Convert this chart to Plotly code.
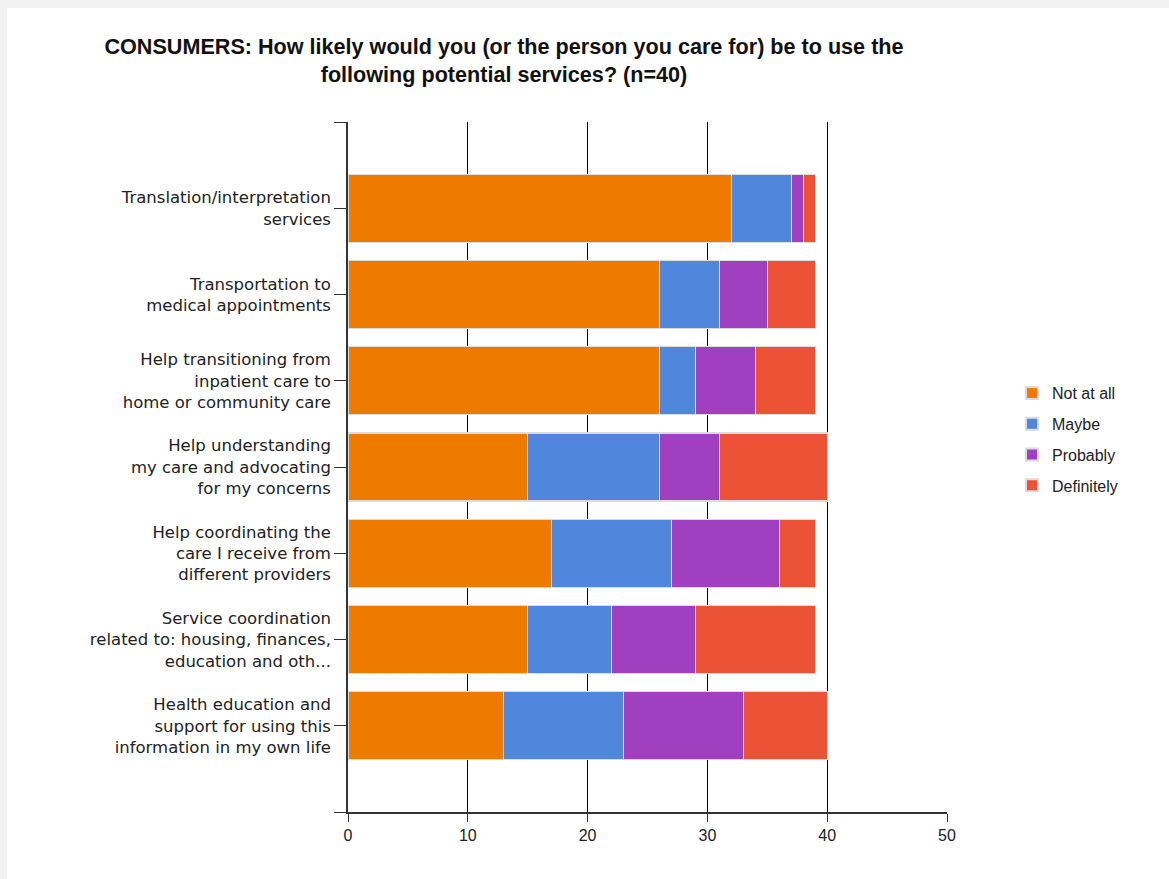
import plotly.graph_objects as go

categories = [
    "Translation/interpretation<br>services",
    "Transportation to<br>medical appointments",
    "Help transitioning from<br>inpatient care to<br>home or community care",
    "Help understanding<br>my care and advocating<br>for my concerns",
    "Help coordinating the<br>care I receive from<br>different providers",
    "Service coordination<br>related to: housing, finances,<br>education and oth...",
    "Health education and<br>support for using this<br>information in my own life",
]
series_names = ["Not at all", "Maybe", "Probably", "Definitely"]
not_at_all = [32, 26, 26, 15, 17, 15, 13]
maybe = [5, 5, 3, 11, 10, 7, 10]
probably = [1, 4, 5, 5, 9, 7, 10]
definitely = [1, 4, 5, 9, 3, 10, 7]
x_ticks = [0, 10, 20, 30, 40, 50]

colors = ["#EE7B00", "#5086DB", "#A040C0", "#EC5235"]
values = [not_at_all, maybe, probably, definitely]
ypos = list(range(len(categories)))

fig = go.Figure()
for name, vals, col in zip(series_names, values, colors):
    fig.add_trace(go.Bar(
        y=ypos, x=vals, name=name, orientation="h",
        legendgroup=name,
        marker=dict(color=col, line=dict(color="#dcdcdc", width=1.2)),
        width=0.79,
    ))

W, H = 1169, 879
L, R, T, B = 348, 222, 122, 67
pw, ph = W - L - R, H - T - B

fig.add_shape(type="rect", xref="paper", yref="paper",
              x0=(7 - L) / pw, x1=(W - L) / pw,
              y0=-(B + 5) / ph, y1=(H - B - 8) / ph,
              fillcolor="white", line=dict(width=0), layer="below")

fig.update_layout(
    barmode="stack",
    width=W, height=H,
    margin=dict(l=L, r=R, t=T, b=B, pad=0),
    paper_bgcolor="#f2f2f2",
    plot_bgcolor="white",
    font=dict(family="Liberation Sans, Arial, sans-serif", size=17, color="#222222"),
    title=dict(
        text="<b>CONSUMERS: How likely would you (or the person you care for) be to use the<br>following potential services? (n=40)</b>",
        x=504 / W, xanchor="center", xref="container",
        y=1 - 54 / H, yanchor="top", yref="container",
        font=dict(size=21.6, color="#111111", family="Liberation Sans, Arial, sans-serif"),
    ),
    legend=dict(
        x=(1012 - L) / pw, xanchor="left",
        y=(H - B - 376) / ph, yanchor="top",
        font=dict(size=16, color="#222222"),
        traceorder="grouped",
        tracegroupgap=7, itemsizing="constant",
        bgcolor="rgba(0,0,0,0)",
    ),
    xaxis=dict(
        range=[0, 50], tickvals=x_ticks, ticktext=[str(v) for v in x_ticks],
        showgrid=True, gridcolor="#000000", gridwidth=1.3,
        showline=True, linecolor="#333333", linewidth=1.5,
        ticks="outside", ticklen=8, tickcolor="#333333", tickwidth=1.3,
        zeroline=False,
        tickfont=dict(size=16, color="#222222"),
    ),
    yaxis=dict(
        range=[len(categories), -1],
        tickvals=[-1] + ypos + [len(categories)],
        ticktext=[""] + categories + [""],
        showgrid=False, zeroline=False,
        showline=True, linecolor="#333333", linewidth=1.5,
        ticks="outside", ticklen=12, tickcolor="#333333", tickwidth=1.3,
        tickfont=dict(size=16.5, color="#222222", family="DejaVu Sans, sans-serif"),
    ),
)

fig.write_html("out.html")
